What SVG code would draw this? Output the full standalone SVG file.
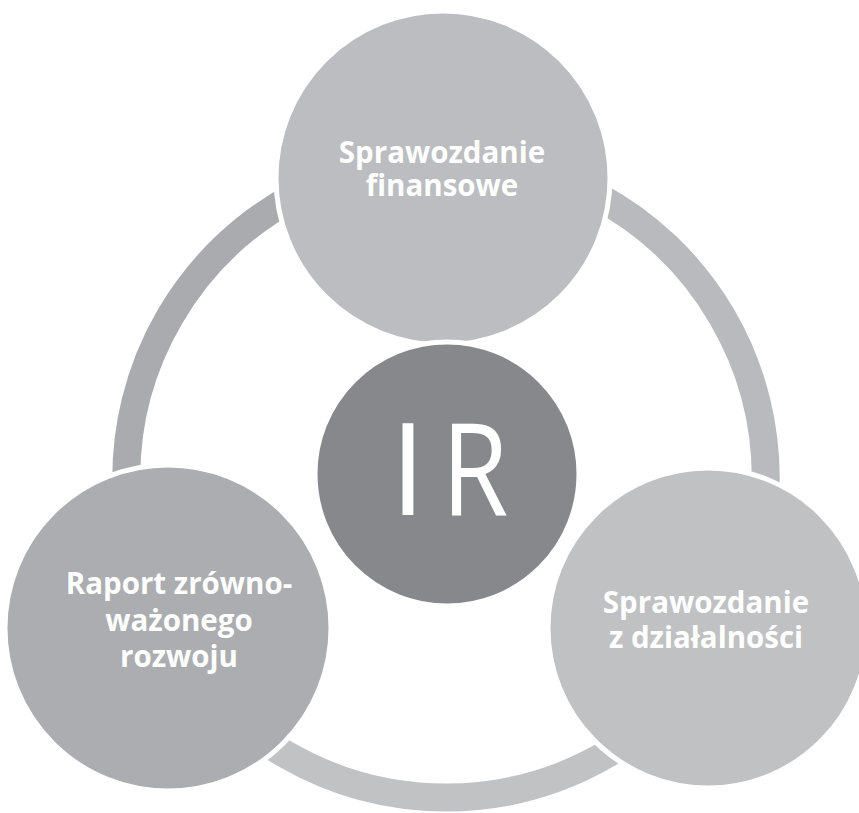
<svg xmlns="http://www.w3.org/2000/svg" width="859" height="813" viewBox="0 0 859 813">
<style>
.node{stroke:#ffffff;stroke-width:5}
.lbl{font-family:"Open Sans","Liberation Sans",sans-serif;font-weight:700;font-size:29.5px;fill:#ffffff;text-anchor:middle}
.ring{fill:none;stroke-width:28}
.big{font-family:"Open Sans","Liberation Sans",sans-serif;font-size:129px;fill:#ffffff;text-anchor:middle}
</style>
<rect width="859" height="813" fill="#ffffff"/>
<g id="connectors">
<path class="ring" stroke="#aaabae" d="M 446 158 A 320 320 0 0 0 168 636"/>
<path class="ring" stroke="#b9babd" d="M 446 158 A 320 320 0 0 1 724 636"/>
<path class="ring" stroke="#c1c2c4" d="M 168 636 A 320 320 0 0 0 724 636"/>
</g>
<g id="node-top">
<circle class="node" cx="443" cy="178" r="167" fill="#bcbdc0"/>
<text class="lbl" x="442" y="163">Sprawozdanie</text>
<text class="lbl" x="442" y="196">finansowe</text>
</g>
<g id="node-left">
<circle class="node" cx="168" cy="628" r="163" fill="#acadb0"/>
<text class="lbl" x="179" y="594">Raport zrówno-</text>
<text class="lbl" x="179" y="631">ważonego</text>
<text class="lbl" x="179" y="667">rozwoju</text>
</g>
<g id="node-right">
<circle class="node" cx="708" cy="628" r="160" fill="#c0c1c3"/>
<text class="lbl" x="706" y="613">Sprawozdanie</text>
<text class="lbl" x="706" y="648">z działalności</text>
</g>
<g id="node-center">
<circle class="node" cx="447" cy="474" r="132" fill="#87888c"/>
<text class="big" x="408" y="515">I</text>
<text class="big" transform="translate(475 515) scale(0.84 1)">R</text>
</g>
</svg>
